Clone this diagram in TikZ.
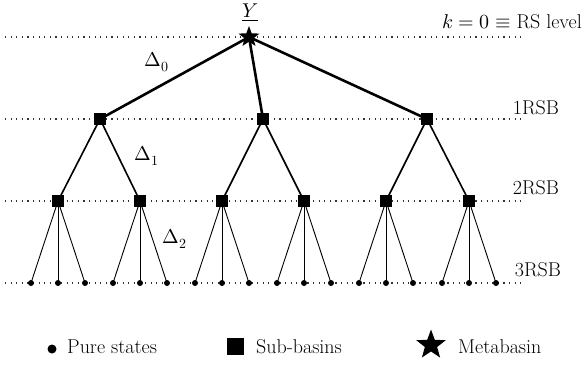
\documentclass[tikz,border=0pt]{standalone}
\usepackage{unicode-math}
\usetikzlibrary{shapes.geometric,backgrounds}
\begin{document}
\begin{tikzpicture}[x=1pt,y=-1pt,
  font=\fontsize{20}{24}\selectfont,
  sq/.style={rectangle,fill=black,inner sep=0pt,minimum size=12pt},
  leaf/.style={circle,fill=black,inner sep=0pt,minimum size=6pt},
  metastar/.style={star,star points=5,star point ratio=2.4,fill=black,inner sep=0pt,minimum size=22pt},
  lvl/.style={line width=1.1pt,dash pattern=on 1.1pt off 4.5pt,black!80},
  e0/.style={line width=2.6pt},
  e1/.style={line width=1.6pt},
  e2/.style={line width=0.9pt},
  lab/.style={inner sep=0pt}]
\useasboundingbox (0,0) rectangle (583,365);
% level lines
\foreach \n/\y in {0/37,1/119,2/201,3/283}{
  \coordinate (L\n) at (5,\y);
  \coordinate (R\n) at (522,\y);
  \draw[lvl] (L\n) -- (R\n);
}
% nodes
\node[metastar] (s) at (249,37) {};
\node[sq] (a1) at (100,119) {};
\node[sq] (a2) at (263,119) {};
\node[sq] (a3) at (427,119) {};
\foreach \i/\x in {1/58,2/140,3/222,4/304,5/386,6/469}{
  \node[sq] (b\i) at (\x,201) {};
  \node[leaf] (c\i l) at (\x-27,283) {};
  \node[leaf] (c\i m) at (\x,283) {};
  \node[leaf] (c\i r) at (\x+27,283) {};
}
\begin{scope}[on background layer]
  \foreach \j in {1,2,3} \draw[e0] (s.center) -- (a\j.center);
  \draw[e1] (a1.center) -- (b1.center);
  \draw[e1] (a1.center) -- (b2.center);
  \draw[e1] (a2.center) -- (b3.center);
  \draw[e1] (a2.center) -- (b4.center);
  \draw[e1] (a3.center) -- (b5.center);
  \draw[e1] (a3.center) -- (b6.center);
  \foreach \i in {1,...,6}{
    \draw[e2] (b\i.center) -- (c\i l.center);
    \draw[e2] (b\i.center) -- (c\i m.center);
    \draw[e2] (b\i.center) -- (c\i r.center);
  }
\end{scope}
% labels
\node[lab] (ylab) at (250,13) {$\underline{Y}$};
\node[lab,anchor=east] (k0) at (582,22) {$k=0\equiv{}$RS level};
\node[lab] (r1) at (536,108) {1RSB};
\node[lab] (r2) at (536,188) {2RSB};
\node[lab] (r3) at (538,270) {3RSB};
\node[lab] (d0) at (157,62) {$\Delta_0$};
\node[lab] (d1) at (147,156) {$\Delta_1$};
\node[lab] (d2) at (175,239) {$\Delta_2$};
% legend
\node[circle,fill=black,inner sep=0pt,minimum size=9pt] (g1) at (52,349) {};
\node[lab,anchor=west] (t1) at (67,347) {Pure states};
\node[rectangle,fill=black,inner sep=0pt,minimum size=17pt] (g2) at (235,346) {};
\node[lab,anchor=west] (t2) at (256,347) {Sub-basins};
\node[star,star points=5,star point ratio=2.4,fill=black,inner sep=0pt,minimum size=31pt] (g3) at (431,345) {};
\node[lab,anchor=west] (t3) at (458,347) {Metabasin};
\end{tikzpicture}
\end{document}
